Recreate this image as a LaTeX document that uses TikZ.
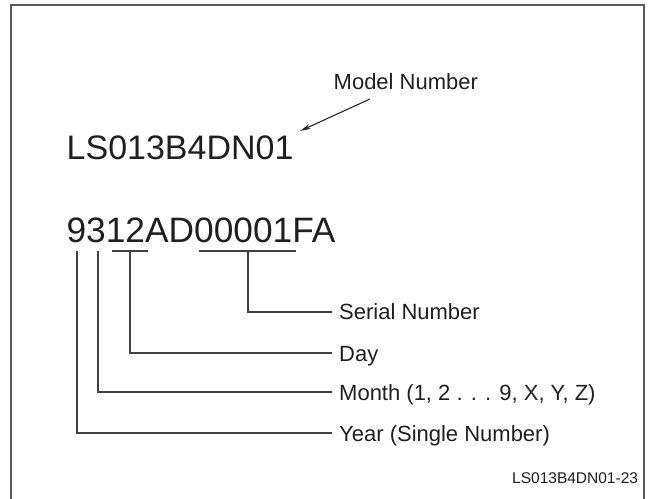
\documentclass[tikz,border=0pt]{standalone}
\usepackage{fontspec}
\setmainfont{Liberation Sans}
\usetikzlibrary{arrows.meta}
\begin{document}
\begin{tikzpicture}[x=1pt,y=1pt,
  txt/.style={inner sep=0pt,anchor=base west,text=black!88},
  lbl/.style={txt,font=\fontsize{22}{26}\selectfont},
  big/.style={txt,font=\fontsize{34}{40}\selectfont},
  ln/.style={line width=1.4pt,draw=black!75},
  frame/.style={line width=1.5pt,draw=black!65}]
\useasboundingbox (0,0) rectangle (652,-498);
\draw[frame] (11,-500) -- (11,-5) -- (644,-5) -- (644,-500);
% texts
\node[lbl] (model) at (333.5,-89) {Model Number};
\node[big] (ls) at (66.5,-159) {LS013B4DN01};
\node[big,font=\fontsize{35.3}{40}\selectfont] (code) at (66.4,-242) {9312AD00001FA};
\node[lbl] (serial) at (339,-319) {Serial Number};
\node[lbl] (day) at (339,-361) {Day};
\node[lbl] (month) at (339,-400) {Month (1, 2 . . . 9, X, Y, Z)};
\node[lbl] (year) at (339,-441) {Year (Single Number)};
\node[txt,font=\fontsize{15.5}{18}\selectfont] (fig) at (512,-483) {LS013B4DN01-23};
% model arrow
\coordinate (mA) at (370,-99);
\coordinate (mB) at (300,-131);
\draw[line width=1.1pt,draw=black!85,-{Stealth[length=11pt,width=5pt]}] (mA) -- (mB);
% brackets
\coordinate (sL) at (199,-251); \coordinate (sR) at (296,-251); \coordinate (sM) at (248,-251);
\coordinate (sC) at (248,-312); \coordinate (sE) at (332,-312);
\draw[ln] (sL) -- (sR);
\draw[ln] (sM) -- (sC) -- (sE);
\coordinate (dL) at (112,-251); \coordinate (dR) at (148,-251); \coordinate (dM) at (130,-251);
\coordinate (dC) at (130,-353); \coordinate (dE) at (332,-353);
\draw[ln] (dL) -- (dR);
\draw[ln] (dM) -- (dC) -- (dE);
\coordinate (mT) at (98,-251); \coordinate (mC) at (98,-392); \coordinate (mE) at (332,-392);
\draw[ln] (mT) -- (mC) -- (mE);
\coordinate (yT) at (77,-251); \coordinate (yC) at (77,-433); \coordinate (yE) at (332,-433);
\draw[ln] (yT) -- (yC) -- (yE);
\end{tikzpicture}
\end{document}
